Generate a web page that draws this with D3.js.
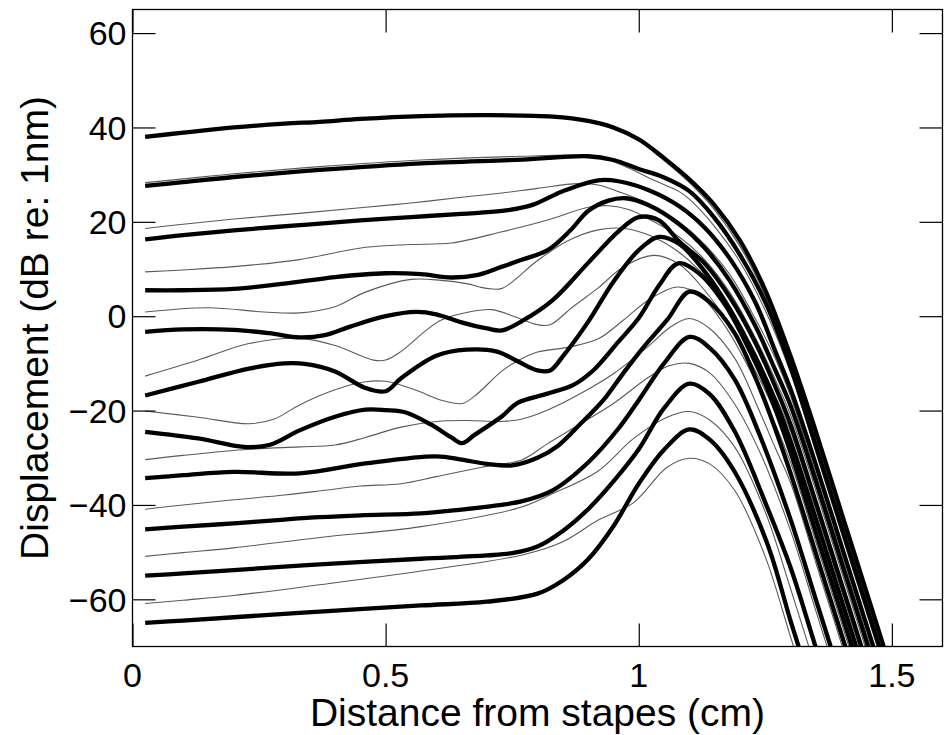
<!DOCTYPE html>
<head>
    <meta charset="utf-8">
    <script src="https://d3js.org/d3.v7.min.js"></script>
    <style>
        body {
            margin: 0;
            background: #fff;
            font-family: "Liberation Sans", Arial, sans-serif;
        }
        .tick-label {
            font-size: 34px;
        }
        .axis-title {
            font-size: 39px;
        }
    </style>
</head>
<body>
<div id="chart"></div>
<script>
    // axis ticks
    var xTicks = [0, 0.5, 1, 1.5];
    var yTicks = [-60, -40, -20, 0, 20, 40, 60];

    // thick curves, [distance (cm), displacement (dB re 1nm)], lowest first
    var thick0 = [[0.025,-65],[0.1,-64.5],[0.2,-63.8],[0.37,-62.6],[0.57,-61.3],[0.7,-60.5],[0.8,-58.8],[0.85,-56],[0.9,-51.5],[0.95,-44.5],[1.0,-35.5],[1.05,-28.3],[1.1,-24],[1.142,-26.3],[1.188,-32.7],[1.254,-48.2],[1.3,-64.6],[1.35,-81.6],[1.4,-98.6]];
    var thick1 = [[0.025,-55],[0.1,-54.5],[0.2,-53.8],[0.37,-52.6],[0.57,-51.4],[0.7,-50.7],[0.75,-50.2],[0.8,-48.8],[0.85,-45.5],[0.9,-40.9],[0.95,-35],[1.0,-28.2],[1.05,-19.5],[1.1,-14.3],[1.14,-16.5],[1.19,-24.5],[1.25,-39.5],[1.3,-53.3],[1.35,-70.3],[1.4,-87.3],[1.45,-104.3]];
    var thick2 = [[0.025,-45.2],[0.1,-44.6],[0.2,-43.9],[0.3,-43.1],[0.37,-42.6],[0.45,-42.2],[0.57,-41.8],[0.65,-41],[0.72,-40.1],[0.77,-39.2],[0.83,-36.9],[0.9,-31],[0.96,-23.8],[1.0,-17.8],[1.05,-10],[1.1,-4.4],[1.14,-6.7],[1.19,-13.5],[1.24,-25.5],[1.3,-43.1],[1.35,-60.1],[1.4,-77.1],[1.45,-94.1],[1.5,-111.1]];
    var thick3 = [[0.025,-34.3],[0.1,-33.7],[0.2,-33],[0.33,-33.3],[0.46,-31.2],[0.6,-29.7],[0.65,-30.4],[0.7,-31.3],[0.75,-31.6],[0.8,-30],[0.84,-27.5],[0.885,-22.8],[0.93,-17.8],[0.97,-12],[1.01,-6.5],[1.056,-0.8],[1.1,5.2],[1.14,3],[1.19,-3.7],[1.24,-15.5],[1.27,-24],[1.3,-33.3],[1.35,-50.3],[1.4,-67.3],[1.45,-84.3],[1.5,-101.3]];
    var thick4 = [[0.025,-24.5],[0.13,-25.9],[0.22,-27.7],[0.27,-27.3],[0.33,-24.2],[0.4,-21.3],[0.46,-19.8],[0.5,-19.9],[0.54,-20.4],[0.59,-23],[0.63,-25.7],[0.651,-26.9],[0.675,-25.2],[0.73,-21.2],[0.76,-18.4],[0.82,-16.4],[0.87,-14.6],[0.91,-11.5],[0.96,-5.4],[1.0,-0.4],[1.04,6.5],[1.078,11.2],[1.12,9],[1.17,2.5],[1.22,-7.5],[1.26,-17],[1.3,-28.9],[1.35,-45.9],[1.4,-62.9],[1.45,-79.9],[1.5,-96.9]];
    var thick5 = [[0.025,-16.8],[0.13,-13.9],[0.23,-11.1],[0.3,-10],[0.34,-10.1],[0.4,-11.7],[0.46,-15.2],[0.5,-15.9],[0.53,-13.2],[0.6,-8.4],[0.66,-7.1],[0.72,-7.5],[0.76,-9.5],[0.8,-11.5],[0.825,-11.5],[0.85,-8.5],[0.9,-1.2],[0.95,7.3],[1.0,14],[1.04,16.8],[1.08,15.3],[1.13,9.5],[1.18,1.5],[1.23,-8.5],[1.27,-18],[1.3,-26.5],[1.35,-43],[1.4,-60],[1.45,-77],[1.5,-94]];
    var thick6 = [[0.025,-3.3],[0.1,-2.8],[0.2,-2.9],[0.27,-3.6],[0.33,-4.5],[0.38,-4],[0.43,-2.2],[0.5,0],[0.56,0.9],[0.6,0.4],[0.65,-1.3],[0.7,-2.6],[0.73,-3],[0.77,-1],[0.83,3.4],[0.9,11.3],[0.96,18],[1.0,21],[1.04,20.3],[1.08,15.8],[1.13,11.2],[1.18,4],[1.23,-5.5],[1.27,-15],[1.3,-23],[1.35,-39.5],[1.4,-56.5],[1.45,-73.5],[1.5,-90.5]];
    var thick7 = [[0.025,5.5],[0.1,5.5],[0.2,5.8],[0.3,6.9],[0.4,8.3],[0.5,9.1],[0.57,8.9],[0.63,8.2],[0.68,8.7],[0.73,10.5],[0.77,12],[0.82,14],[0.865,18.2],[0.9,22.3],[0.94,24.5],[0.975,25],[1.02,23.5],[1.08,19.5],[1.13,14.5],[1.18,7.5],[1.23,-2],[1.27,-11.5],[1.3,-19],[1.35,-35],[1.4,-52],[1.45,-69],[1.5,-86]];
    var thick8 = [[0.025,16.3],[0.1,17.2],[0.2,18.2],[0.33,19.3],[0.45,20.3],[0.55,21],[0.65,21.7],[0.73,22.3],[0.79,23.6],[0.85,26.5],[0.92,28.8],[0.96,28.6],[1.02,26.7],[1.08,23.3],[1.13,18.8],[1.18,12.2],[1.23,3],[1.27,-7.5],[1.3,-15.5],[1.35,-31.5],[1.4,-48.5],[1.45,-65.5],[1.5,-82.5]];
    var thick9 = [[0.025,27.6],[0.1,28.4],[0.2,29.5],[0.37,31],[0.57,32.4],[0.77,33.2],[0.9,33.9],[0.95,33.1],[1.0,31.2],[1.05,29.4],[1.1,26.5],[1.15,20.8],[1.2,13],[1.25,3],[1.3,-10.8],[1.35,-27.5],[1.4,-44.5],[1.45,-61.5],[1.5,-78.5]];
    var thick10 = [[0.025,38],[0.1,38.9],[0.2,40],[0.3,40.8],[0.37,41.2],[0.45,41.8],[0.57,42.4],[0.7,42.6],[0.83,42.3],[0.9,41.4],[0.95,40],[1.0,37.5],[1.05,33.5],[1.1,29],[1.15,23.5],[1.2,16],[1.25,5.5],[1.3,-8.5],[1.35,-24.5],[1.4,-41.5],[1.45,-58.5],[1.5,-75.5]];

    // thin grey curves, same order
    var thin0 = [[0.025,-60.9],[0.1,-60.2],[0.2,-59.2],[0.37,-56.9],[0.57,-54],[0.77,-50.6],[0.85,-47.8],[0.92,-43.2],[0.99,-39.5],[1.056,-32],[1.1,-30.1],[1.14,-31.3],[1.19,-37],[1.25,-51],[1.3,-68],[1.35,-85],[1.4,-102]];
    var thin1 = [[0.025,-50.9],[0.1,-50.1],[0.2,-49.1],[0.37,-46.9],[0.57,-44.6],[0.77,-40.4],[0.83,-37.6],[0.92,-32.8],[0.99,-25.9],[1.056,-21.4],[1.1,-20.2],[1.14,-22],[1.19,-27.8],[1.25,-41.5],[1.3,-57.8],[1.35,-74.8],[1.4,-91.8]];
    var thin2 = [[0.025,-40.9],[0.1,-40],[0.2,-38.9],[0.3,-37.9],[0.38,-36.9],[0.45,-36],[0.53,-35.5],[0.6,-34],[0.69,-32],[0.77,-30.4],[0.82,-27],[0.885,-22.8],[0.95,-18.5],[1.02,-12.9],[1.06,-10.5],[1.1,-10],[1.14,-12],[1.19,-18.7],[1.24,-29],[1.3,-45.5],[1.35,-62.5],[1.4,-79.5],[1.45,-96.5],[1.5,-113.5]];
    var thin3 = [[0.025,-30.4],[0.1,-29.5],[0.23,-28.2],[0.33,-27.7],[0.4,-27.3],[0.46,-25.7],[0.53,-23.5],[0.6,-22.3],[0.66,-22.1],[0.73,-22.3],[0.77,-21.8],[0.82,-19.9],[0.885,-16.4],[0.95,-12.2],[1.02,-6.3],[1.06,-2.5],[1.1,-0.5],[1.14,-2.6],[1.19,-9],[1.24,-20.5],[1.27,-28],[1.3,-35.3],[1.35,-52.3],[1.4,-69.3],[1.45,-86.3],[1.5,-103.3]];
    var thin4 = [[0.025,-20.1],[0.13,-21.4],[0.23,-22.8],[0.28,-21.8],[0.33,-18.8],[0.4,-15.6],[0.46,-13.9],[0.5,-13.8],[0.56,-15.7],[0.61,-17.8],[0.651,-18.5],[0.675,-17],[0.73,-11.6],[0.76,-9.5],[0.8,-7.6],[0.865,-6.5],[0.92,-4.8],[0.97,-0.8],[1.02,3.5],[1.076,6.2],[1.12,4.5],[1.17,-2],[1.22,-11.5],[1.26,-20.5],[1.3,-31],[1.35,-47.9],[1.4,-64.9],[1.45,-81.9],[1.5,-98.9]];
    var thin5 = [[0.025,-12.7],[0.13,-9.3],[0.23,-5.8],[0.33,-4.7],[0.4,-6.2],[0.476,-9.3],[0.5,-9.3],[0.53,-7.5],[0.58,-3],[0.61,-0.8],[0.66,0.8],[0.71,1.4],[0.755,-0.1],[0.8,-1.8],[0.825,-1.8],[0.87,2],[0.92,6],[0.97,10.5],[1.03,12.9],[1.08,11],[1.13,5.5],[1.18,-2],[1.23,-11.5],[1.27,-20.5],[1.3,-28.5],[1.35,-45],[1.4,-62],[1.45,-79],[1.5,-96]];
    var thin6 = [[0.025,0.9],[0.15,1.8],[0.26,0.9],[0.33,0.7],[0.4,2],[0.46,5.1],[0.55,7.8],[0.61,7.6],[0.66,6.9],[0.7,5.9],[0.73,5.9],[0.8,11.8],[0.86,16],[0.92,18.3],[0.97,18.6],[1.02,17.2],[1.08,13.5],[1.13,8.5],[1.18,1.5],[1.23,-8],[1.27,-17],[1.3,-24.5],[1.35,-41],[1.4,-58],[1.45,-75],[1.5,-92]];
    var thin7 = [[0.025,9.4],[0.1,9.8],[0.2,10.5],[0.33,12],[0.46,14.6],[0.55,15.2],[0.63,15.5],[0.73,17.9],[0.82,20.4],[0.9,23.1],[0.94,23.4],[0.98,22.6],[1.02,20.6],[1.08,16.8],[1.13,12],[1.18,5],[1.23,-4.5],[1.27,-13.5],[1.3,-21],[1.35,-37],[1.4,-54],[1.45,-71],[1.5,-88]];
    var thin8 = [[0.025,18.6],[0.1,19.5],[0.2,20.6],[0.33,21.8],[0.45,23],[0.55,24],[0.65,25.2],[0.73,26.1],[0.8,27.1],[0.88,28.1],[0.92,27.8],[0.96,26.4],[1.02,23.8],[1.08,19.9],[1.13,15.2],[1.18,8.8],[1.23,-0.5],[1.27,-9],[1.3,-17],[1.35,-33.5],[1.4,-50.5],[1.45,-67.5],[1.5,-84.5]];
    var thin9 = [[0.025,28.3],[0.1,29.1],[0.2,30.2],[0.37,31.7],[0.57,33.1],[0.77,33.9],[0.88,34.1],[0.93,33.5],[0.98,31.4],[1.03,28.8],[1.08,26.4],[1.1,24.8],[1.15,19],[1.2,11.5],[1.25,1.2],[1.3,-12],[1.35,-28.9],[1.4,-45.9],[1.45,-62.9],[1.5,-79.9]];
    var thin10 = [[0.025,37.9],[0.1,38.8],[0.2,39.9],[0.3,40.7],[0.37,41.1],[0.45,41.7],[0.57,42.3],[0.7,42.5],[0.83,42.2],[0.9,41.2],[0.95,39.7],[1.0,37.1],[1.05,33],[1.1,28.3],[1.15,22.5],[1.2,14.8],[1.25,4.2],[1.3,-9.8],[1.35,-25.8],[1.4,-42.8],[1.45,-59.8],[1.5,-76.8]];

    var thickCurves = [thick0, thick1, thick2, thick3, thick4, thick5, thick6, thick7, thick8, thick9, thick10];
    var thinCurves = [thin0, thin1, thin2, thin3, thin4, thin5, thin6, thin7, thin8, thin9, thin10];

    var width = 946;
    var height = 735;
    var plot = {left: 132.5, right: 942.5, top: 9.5, bottom: 646.5};
    var tickLen = 23;

    var svg = d3.select("#chart")
        .append("svg")
        .attr("width", width)
        .attr("height", height);

    var xScale = d3.scaleLinear()
        .domain([0, 1.6])
        .range([plot.left, plot.right]);

    var yScale = d3.scaleLinear()
        .domain([-70, 65])
        .range([plot.bottom, plot.top]);

    svg.append("clipPath")
        .attr("id", "clip")
        .append("rect")
        .attr("x", plot.left)
        .attr("y", plot.top)
        .attr("width", plot.right - plot.left)
        .attr("height", plot.bottom - plot.top);

    var line = d3.line()
        .x(function (d) { return xScale(d[0]); })
        .y(function (d) { return yScale(d[1]); })
        .curve(d3.curveCatmullRom.alpha(0.5));

    var curves = svg.append("g").attr("clip-path", "url(#clip)");

    // thin ones under the thick ones
    curves.selectAll("path.thin")
        .data(thinCurves)
        .enter().append("path")
        .attr("class", "thin")
        .attr("d", line)
        .attr("fill", "none")
        .attr("stroke", "#5a5a5a")
        .attr("stroke-width", 1.1);

    curves.selectAll("path.thick")
        .data(thickCurves)
        .enter().append("path")
        .attr("class", "thick")
        .attr("d", line)
        .attr("fill", "none")
        .attr("stroke", "#000")
        .attr("stroke-width", 4.3)
        .attr("stroke-linejoin", "round");

    // box with inward ticks on all four sides
    var xAxisBottom = d3.axisBottom(xScale).tickValues(xTicks).tickSize(-tickLen).tickFormat("");
    var xAxisTop = d3.axisTop(xScale).tickValues(xTicks).tickSize(-tickLen).tickFormat("");
    var yAxisLeft = d3.axisLeft(yScale).tickValues(yTicks).tickSize(-tickLen).tickFormat("");
    var yAxisRight = d3.axisRight(yScale).tickValues(yTicks).tickSize(-tickLen).tickFormat("");

    svg.append("g").attr("transform", "translate(0," + plot.bottom + ")").call(xAxisBottom);
    svg.append("g").attr("transform", "translate(0," + plot.top + ")").call(xAxisTop);
    svg.append("g").attr("transform", "translate(" + plot.left + ",0)").call(yAxisLeft);
    svg.append("g").attr("transform", "translate(" + plot.right + ",0)").call(yAxisRight);

    svg.selectAll(".domain").remove();
    svg.selectAll(".tick line").attr("stroke", "#000").attr("stroke-width", 1.2);

    svg.append("rect")
        .attr("x", plot.left)
        .attr("y", plot.top)
        .attr("width", plot.right - plot.left)
        .attr("height", plot.bottom - plot.top)
        .attr("fill", "none")
        .attr("stroke", "#000")
        .attr("stroke-width", 1.3);

    // tick labels (minus sign like the original)
    svg.selectAll("text.ylab")
        .data(yTicks)
        .enter().append("text")
        .attr("class", "tick-label ylab")
        .attr("x", plot.left - 6)
        .attr("y", function (d) { return yScale(d); })
        .attr("dy", "0.36em")
        .attr("text-anchor", "end")
        .text(function (d) { return d < 0 ? "\u2212" + Math.abs(d) : d; });

    svg.selectAll("text.xlab")
        .data(xTicks)
        .enter().append("text")
        .attr("class", "tick-label xlab")
        .attr("x", function (d) { return xScale(d); })
        .attr("y", 687)
        .attr("text-anchor", "middle")
        .text(function (d) { return d; });

    svg.append("text")
        .attr("class", "axis-title")
        .attr("x", (plot.left + plot.right) / 2)
        .attr("y", 726)
        .attr("text-anchor", "middle")
        .text("Distance from stapes (cm)");

    svg.append("text")
        .attr("class", "axis-title")
        .attr("transform", "translate(48," + (plot.top + plot.bottom) / 2 + ") rotate(-90)")
        .attr("text-anchor", "middle")
        .text("Displacement (dB re: 1nm)");
</script>
</body>
